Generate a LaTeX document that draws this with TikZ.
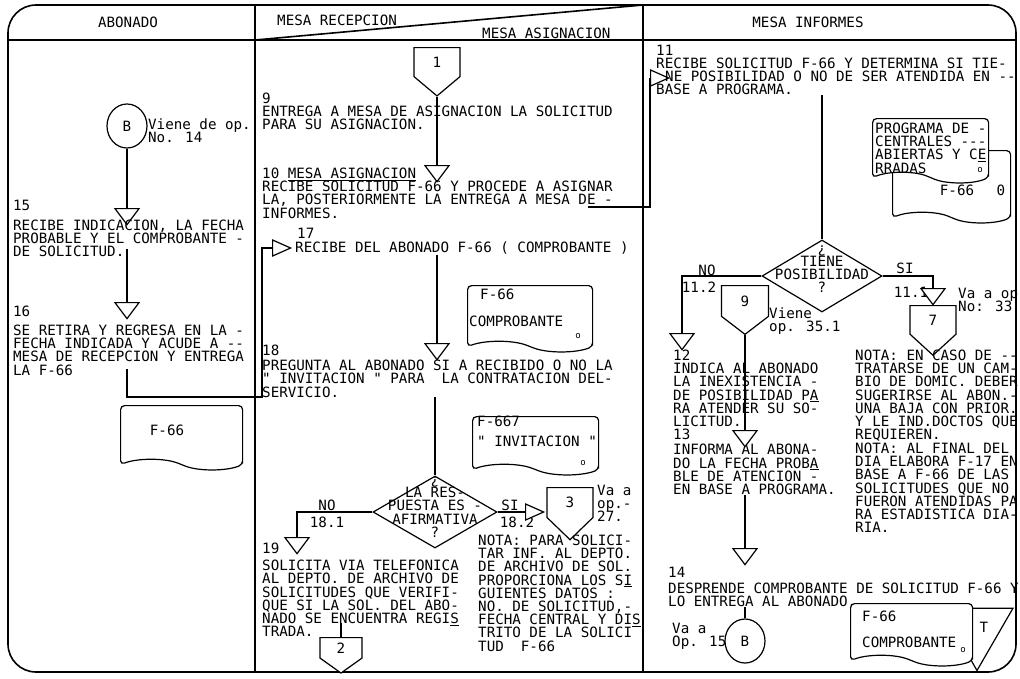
\documentclass[tikz,border=0pt]{standalone}
\usepackage{fontspec}
\newfontfamily\typerfont{DejaVu Sans Mono}
\newcommand{\typew}{\typerfont\fontsize{14.2pt}{13.2pt}\selectfont}

\usetikzlibrary{shapes.geometric,shapes.symbols,positioning}

\begin{document}
\begin{tikzpicture}[x=1pt,y=-1pt]
      \useasboundingbox (0,0) rectangle (1020,678);
      \fontsize{14.2pt}{13.2pt}\selectfont\lineskiplimit=-20pt

      \tikzstyle{frame} = [draw=black, line width=1.6pt]
      \tikzstyle{flow} = [draw=black, line width=1.2pt]
      \tikzstyle{txt} = [
        anchor=north west,
        inner sep=0pt,
        align=left,
        font=\typew
      ]
      \tikzstyle{lbl} = [inner sep=0pt, font=\typew]
      \tikzstyle{merge} = [
        isosceles triangle,
        isosceles triangle stretches,
        shape border rotate=270,
        draw, line width=1.2pt, fill=white,
        inner sep=0pt,
        minimum width=24pt,
        minimum height=16pt
      ]
      \tikzstyle{entry} = [
        isosceles triangle,
        isosceles triangle stretches,
        draw, line width=1.2pt, fill=white,
        inner sep=0pt,
        minimum width=16pt,
        minimum height=18pt
      ]
      \tikzstyle{offpage} = [
        signal, signal to=south, signal pointer angle=100,
        draw, line width=1.2pt, fill=white,
        inner sep=0pt,
        minimum width=46pt,
        minimum height=32.6pt,
        font=\typew
      ]
      \tikzstyle{link} = [ellipse, draw, line width=1.2pt, inner sep=0pt, minimum width=40pt, minimum height=44pt, font=\typew]
      \tikzstyle{decision} = [diamond, draw, line width=1.2pt, inner sep=0pt]
      \tikzstyle{dtext} = [inner sep=0pt, align=center, font=\typew]
      \tikzstyle{doc} = [
        tape, tape bend top=none, tape bend bottom=out and in, tape bend height=10pt,
        draw, line width=1.2pt, fill=white,
        inner sep=0pt,
        anchor=north west,
        rounded corners=4pt
      ]
      \tikzstyle{smallo} = [inner sep=0pt, font=\typerfont\fontsize{9pt}{9pt}\selectfont]
      \tikzstyle{filetri} = [regular polygon, regular polygon sides=3, shape border rotate=180, draw, line width=1.2pt, inner sep=0pt, minimum size=83pt]

      % frame
      \draw[frame, rounded corners=28pt] (8,5) rectangle (1016,672);
      \draw[frame] (8,40) -- (1016,40);
      \draw[frame] (255,5) -- (255,672);
      \draw[frame] (643,5) -- (643,672);
      \draw[frame] (255,40) -- (643,5);

      % headers
      \node[lbl] (hAbonado) at (128,22) {ABONADO};
      \node[lbl, anchor=west] (hRecepcion) at (277,20) {MESA RECEPCION};
      \node[lbl, anchor=west] (hAsignacion) at (482,33) {MESA ASIGNACION};
      \node[lbl] (hInformes) at (808,22) {MESA INFORMES};

      % abonado
      \node[link] (cB) at (127,126) {B};
      \node[txt] (cBLabel) at (148,118.7) {Viene de op.\\No. 14};
      \node[merge, anchor=north] (m15) at (127,208) {};
      \node[txt] (n15) at (13,199.7) {15};
      \node[txt] (t15) at (13,219.7) {RECIBE INDICACION, LA FECHA\\PROBABLE Y EL COMPROBANTE -\\DE SOLICITUD.};
      \node[merge, anchor=north] (m16) at (127,302) {};
      \node[txt] (n16) at (13,305.7) {16};
      \node[txt] (t16) at (13,324.7) {SE RETIRA Y REGRESA EN LA -\\FECHA INDICADA Y ACUDE A --\\MESA DE RECEPCION Y ENTREGA\\LA F-66};
      \coordinate (k16) at (262,397);
      \node[doc, minimum width=122pt, minimum height=64pt] (dAbonado) at (120,405) {};
      \node[lbl] (dAbonadoLabel) at (167,430) {F-66};

      % mesa recepcion / asignacion
      \node[offpage, anchor=north] (c1) at (437,47) {1};
      \node[txt] (t9) at (262,92.7) {9\\ENTREGA A MESA DE ASIGNACION LA SOLICITUD\\PARA SU ASIGNACION.};
      \node[merge, anchor=north] (m10) at (437,165) {};
      \node[txt] (t10) at (262,167.7) {10 \underline{MESA ASIGNACION}\\RECIBE SOLICITUD F-66 Y PROCEDE A ASIGNAR\\LA, POSTERIORMENTE LA ENTREGA A MESA DE -\\INFORMES.};
      \coordinate (o10) at (588,207);
      \coordinate (k10) at (650,207);

      \node[entry, anchor=west] (m17) at (272,248) {};
      \node[txt] (n17) at (297,227.7) {17};
      \node[lbl, anchor=west] (t17) at (295,248) {RECIBE DEL ABONADO F-66 ( COMPROBANTE )};
      \node[doc, minimum width=125pt, minimum height=66pt] (dComp) at (467,285) {};
      \node[lbl, anchor=west] (dCompForm) at (480,294) {F-66};
      \node[lbl, anchor=west] (dCompName) at (469,321) {COMPROBANTE};
      \node[smallo] (dCompO) at (578,336) {o};
      \node[merge, anchor=north] (m18) at (437,343) {};
      \node[txt] (t18) at (262,344.7) {18\\[2pt]PREGUNTA AL ABONADO SI A RECIBIDO O NO LA\\" INVITACION " PARA\ \ LA CONTRATACION DEL-\\SERVICIO.};
      \node[doc, minimum width=126pt, minimum height=58pt] (dInv) at (472,416) {};
      \node[lbl, anchor=west] (dInvForm) at (477,421) {F-667};
      \node[lbl, anchor=west] (dInvName) at (477,441) {" INVITACION "};
      \node[smallo] (dInvO) at (583,463) {o};

      \node[decision, minimum width=124pt, minimum height=72pt] (d18) at (435,512) {};
      \node[dtext] (d18Text) at (435,507) {¿\\LA RES-\\PUESTA ES -\\AFIRMATIVA\\?};
      \coordinate (k19) at (297,512);
      \node[lbl] (lNo18) at (327,505) {NO};
      \node[lbl] (lNo18n) at (327,522) {18.1};
      \node[merge, anchor=north] (m19) at (297,537) {};
      \node[txt] (t19) at (262,542.7) {19\\[4pt]SOLICITA VIA TELEFONICA\\AL DEPTO. DE ARCHIVO DE\\SOLICITUDES QUE VERIFI-\\QUE SI LA SOL. DEL ABO-\\NADO SE ENCUENTRA REGI\underline{S}\\TRADA.};
      \node[offpage, anchor=north, minimum width=42pt, minimum height=23.5pt, signal pointer angle=109] (c2) at (341,637) {2};

      \node[lbl] (lSi18) at (510,505) {SI};
      \node[lbl] (lSi18n) at (517,522) {18.2};
      \node[entry, anchor=west] (m3) at (525,512) {};
      \node[offpage, anchor=north, minimum height=34pt, signal pointer angle=92] (c3) at (570,487) {3};
      \node[txt] (v3) at (597,484.7) {Va a\\op.-\\27.};
      \node[txt] (nota18) at (478,534.7) {NOTA: PARA SOLICI-\\TAR INF. AL DEPTO.\\DE ARCHIVO DE SOL.\\PROPORCIONA LOS S\underline{I}\\GUIENTES DATOS :\\NO. DE SOLICITUD,-\\FECHA CENTRAL Y DI\underline{S}\\TRITO DE LA SOLICI\\TUD\ \ F-66};

      % mesa informes
      \node[entry, anchor=west] (m11) at (650,78) {};
      \node[txt] (t11) at (656,44.7) {11\\RECIBE SOLICITUD F-66 Y DETERMINA SI TIE-\\\hspace*{9pt}NE POSIBILIDAD O NO DE SER ATENDIDA EN --\\BASE A PROGRAMA.};
      \node[doc, minimum width=118pt, minimum height=72pt] (dProg2) at (892,150) {};
      \node[lbl] (dProg2Form) at (957,190) {F-66};
      \node[lbl] (dProg2O) at (1001,190) {0};
      \node[doc, minimum width=116pt, minimum height=64pt] (dProg1) at (872,118) {};
      \node[txt] (dProg1Name) at (875,122.7) {PROGRAMA DE -\\CENTRALES ---\\ABIERTAS Y C\underline{E}\\RRADAS};
      \node[smallo] (dProg1O) at (980,170) {o};

      \node[decision, minimum width=120pt, minimum height=72pt] (d11) at (822,276) {};
      \node[dtext] (d11Text) at (822,269) {¿\\TIENE\\POSIBILIDAD\\?};
      \coordinate (k12) at (682,276);
      \coordinate (k7) at (933,276);
      \node[lbl] (lNo11) at (707,270) {NO};
      \node[lbl] (lNo11n) at (699,287) {11.2};
      \node[lbl] (lSi11) at (905,268) {SI};
      \node[lbl] (lSi11n) at (911,292) {11.1};
      \node[merge, anchor=north] (m12) at (682,333) {};
      \node[offpage, anchor=north, minimum width=47pt, minimum height=34pt, signal pointer angle=105] (c9) at (745,285) {9};
      \node[txt] (v9) at (769,307.7) {Viene\\op. 35.1};
      \node[merge, anchor=north] (m7) at (933,288) {};
      \node[offpage, anchor=north, minimum height=32.5pt, signal pointer angle=95] (c7) at (933,305) {7};
      \node[txt] (v7) at (958,287.7) {Va a op\\No: 33};

      \node[txt] (t12) at (673,349.7) {12\\INDICA AL ABONADO\\LA INEXISTENCIA -\\DE POSIBILIDAD P\underline{A}\\RA ATENDER SU SO-\\LICITUD.\\13\\[2pt]INFORMA AL ABONA-\\DO LA FECHA PROB\underline{A}\\BLE DE ATENCION -\\EN BASE A PROGRAMA.};
      \node[merge, anchor=north] (m13) at (745,430) {};
      \node[txt] (nota11a) at (855,349.7) {NOTA: EN CASO DE --\\TRATARSE DE UN CAM-\\BIO DE DOMIC. DEBER\\SUGERIRSE AL ABON.-\\UNA BAJA CON PRIOR.\\Y LE IND.DOCTOS QUE\\REQUIEREN.};
      \node[txt] (nota11b) at (855,442.7) {NOTA: AL FINAL DEL\\DIA ELABORA F-17 EN\\BASE A F-66 DE LAS\\SOLICITUDES QUE NO\\FUERON ATENDIDAS PA\\RA ESTADISTICA DIA-\\RIA.};
      \node[merge, anchor=north] (m14) at (745,548) {};
      \node[txt] (t14) at (668,566.7) {14\\[3pt]DESPRENDE COMPROBANTE DE SOLICITUD F-66 Y\\LO ENTREGA AL ABONADO.};
      \node[link] (cB2) at (745,641) {B};
      \node[txt] (v14) at (672,622.7) {Va a\\Op. 15};
      \node[filetri] (fileT) at (977,629) {};
      \node[lbl] (fileTLabel) at (984,627) {T};
      \node[doc, minimum width=122pt, minimum height=62pt] (dTalon) at (850,603) {};
      \node[txt] (dTalonForm) at (862,610.7) {F-66};
      \node[txt] (dTalonName) at (862,636.7) {COMPROBANTE};
      \node[smallo] (dTalonO) at (963,650) {o};

      % abonado flow
      \draw[flow] (cB.south) -- (m15.north);
      \draw[flow] ([yshift=8pt]t15.south -| m16.north) -- (m16.north);
      \draw[flow] ([yshift=6pt]t16.south -| m16.south) |- (k16) |- (m17.west);

      % recepcion flow
      \draw[flow] (c1.south) -- (m10.north);
      \draw[flow] (o10) -- (k10) |- (m11.west);
      \draw[flow] (t17.south -| m18.north) -- (m18.north);
      \draw[flow] (t18.south -| d18.north) -- (d18.north);
      \draw[flow] (d18.west) -- (k19) -- (m19.north);
      \draw[flow] (d18.east) -- (m3.west);
      \draw[flow] ([yshift=14pt]t19.south -| c2.north) -- (c2.north);

      % informes flow
      \draw[flow] (t11.south -| d11.north) -- (d11.north);
      \draw[flow] (d11.west) -- (k12) -- (m12.north);
      \draw[flow] (d11.east) -- (k7) -- (m7.north);
      \draw[flow] (c9.south) -- (m13.north);
      \draw[flow] (t12.south -| m14.north) -- (m14.north);
      \draw[flow] (t14.south -| cB2.north) -- (cB2.north);
    \end{tikzpicture}
\end{document}
